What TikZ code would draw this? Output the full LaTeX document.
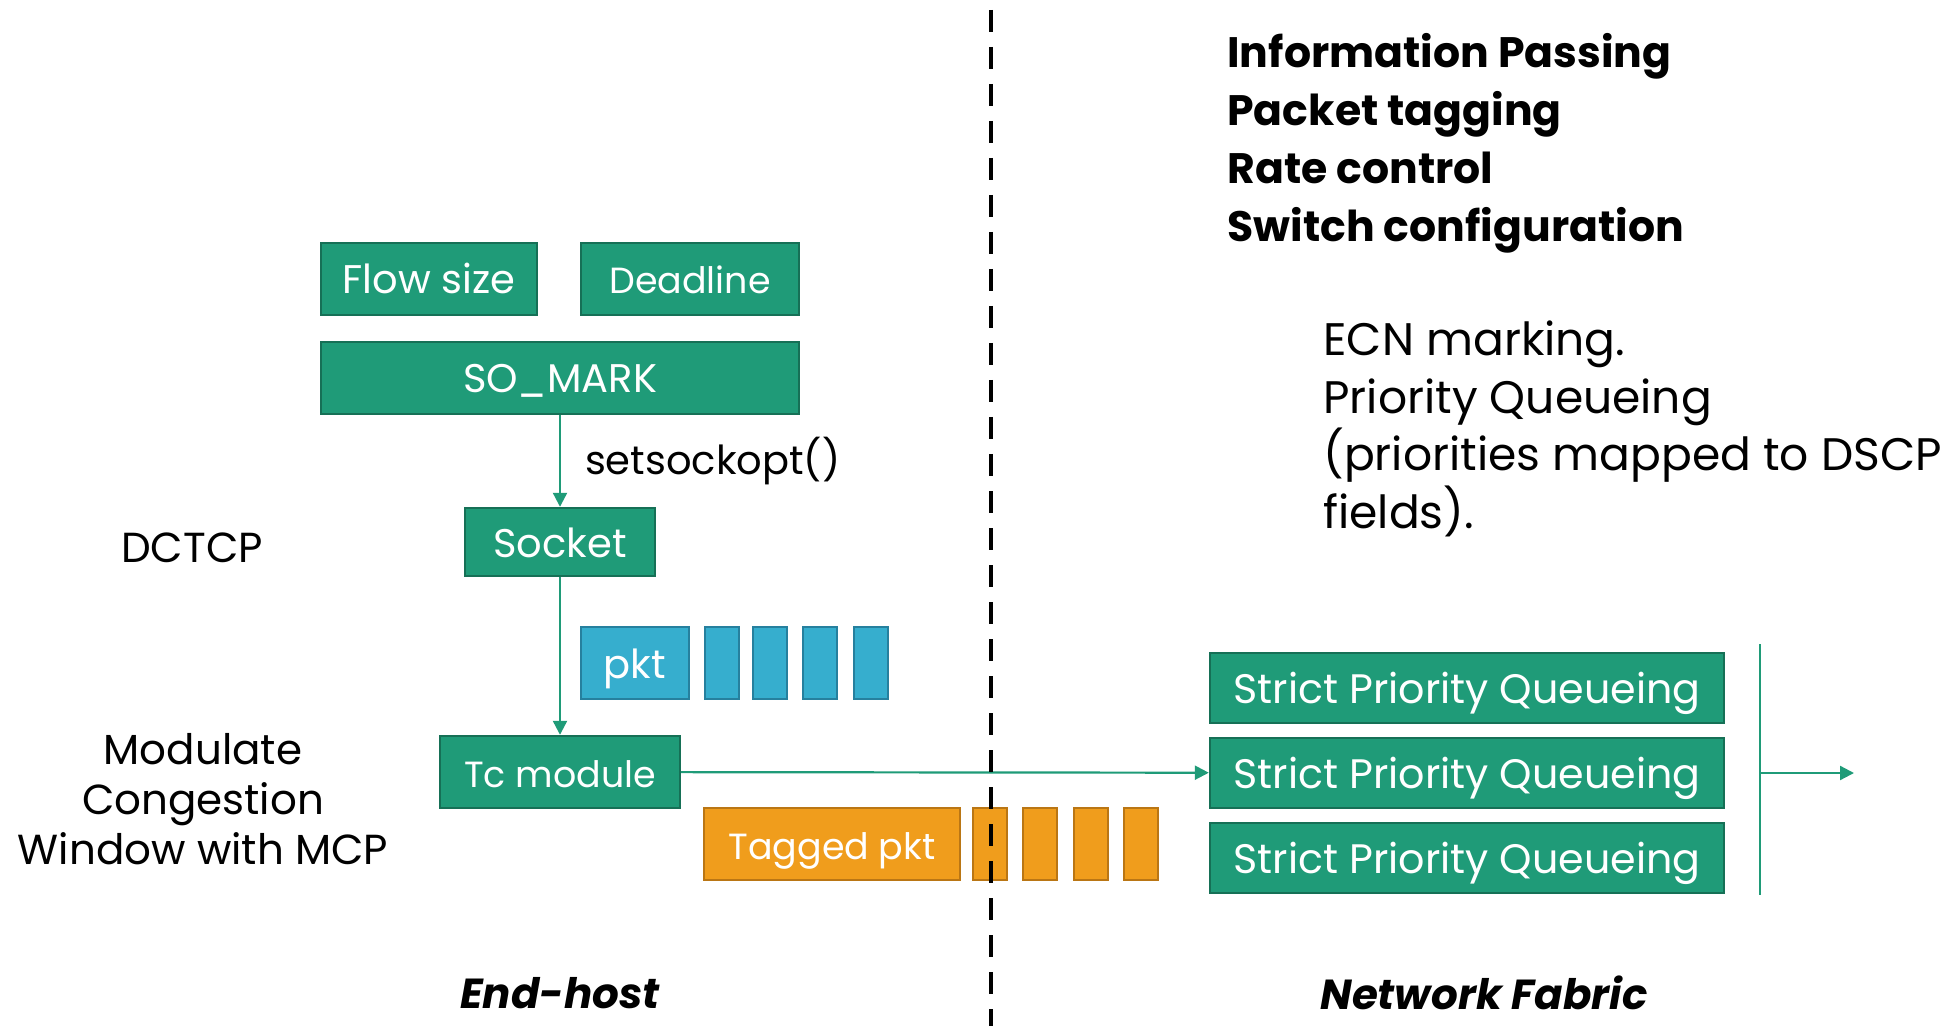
\documentclass[tikz,border=0pt]{standalone}
\usepackage{fontspec}
\setmainfont{Poppins}
\usetikzlibrary{arrows.meta}
\definecolor{boxgreen}{RGB}{31,155,120}
\definecolor{greenedge}{RGB}{22,112,86}
\definecolor{boxblue}{RGB}{54,174,206}
\definecolor{blueedge}{RGB}{38,128,158}
\definecolor{boxorange}{RGB}{240,157,28}
\definecolor{orangeedge}{RGB}{186,118,20}
\begin{document}
\begin{tikzpicture}[x=0.5pt,y=-0.5pt]
  \tikzset{
    basebox/.style={line width=1.2pt,inner sep=0pt,minimum height=36pt,text height=19pt,text depth=4pt,text=white,font=\fontsize{20}{24}\selectfont},
    gbox/.style={basebox,draw=greenedge,fill=boxgreen},
    bbox/.style={basebox,draw=blueedge,fill=boxblue},
    obox/.style={basebox,draw=orangeedge,fill=boxorange},
    smaller/.style={font=\fontsize{18.2}{22}\selectfont},
    txt/.style={inner sep=0pt,font=\fontsize{21}{25}\selectfont},
    glink/.style={draw=boxgreen,line width=1.1pt},
    garrow/.style={glink,-{Triangle[length=7pt,width=7pt]}},
  }
  \useasboundingbox (0,0) rectangle (1954,1026);
  \node[gbox,minimum width=108pt] (flow) at (429,279) {Flow size};
  \node[gbox,smaller,minimum width=109pt] (deadline) at (690,279) {Deadline};
  \node[gbox,minimum width=239pt] (somark) at (560,378) {SO\_MARK};
  \node[gbox,minimum width=95pt,minimum height=34pt] (socket) at (560,542) {Socket};
  \node[bbox,minimum width=54pt] (pkt) at (635,663) {pkt};
  \foreach \x/\n in {722/1,770/2,820/3,871/4}
    \node[bbox,minimum width=17pt] (pkt\n) at (\x,663) {};
  \node[gbox,smaller,minimum width=120pt] (tc) at (560,772) {Tc module};
  \node[obox,smaller,minimum width=128pt] (tagged) at (832,844) {Tagged pkt};
  \foreach \x/\n in {990/1,1040/2,1091/3,1141/4}
    \node[obox,minimum width=17pt] (tag\n) at (\x,844) {};
  \foreach \y/\n in {688/1,773/2,858/3}
    \node[gbox,minimum width=257pt,minimum height=35pt,font=\fontsize{20.6}{24}\selectfont] (spq\n) at (1467,\y) {Strict Priority Queueing};
  \coordinate (bartop) at (1760,644);
  \coordinate (barbot) at (1760,895);
  \coordinate (barmid) at (1760,773);
  \coordinate (out) at (1854,773);
  \coordinate (divtop) at (991,10);
  \coordinate (divbot) at (991,1026);
  \draw[garrow] (somark) -- (socket) node[midway,anchor=west,xshift=12pt,txt,font=\fontsize{20}{24}\selectfont] {setsockopt()};
  \draw[garrow] (socket) -- (tc);
  \draw[garrow] (tc) -- (spq2);
  \draw[glink] (bartop) -- (barbot);
  \draw[garrow] (barmid) -- (out);
  \draw[line width=2pt,dash pattern=on 11pt off 7.5pt] (divtop) -- (divbot);
  \node[txt] (dctcp) at (192,548) {DCTCP};
  \node[txt,align=center] (mcp) at (203,799) {Modulate\\Congestion\\Window with MCP};
  \node[txt,font=\fontsize{21}{25}\selectfont\bfseries\itshape] (endhost) at (560,993) {End-host};
  \node[txt,font=\fontsize{21}{25}\selectfont\bfseries\itshape] (fabric) at (1484,993) {Network Fabric};
  \node[txt,anchor=west,align=left,font=\fontsize{21.3}{29}\selectfont\bfseries] (tasks) at (1227,143) {Information Passing\\Packet tagging\\Rate control\\Switch configuration};
  \node[txt,anchor=west,align=left,font=\fontsize{22.8}{28.8}\selectfont] (switchcfg) at (1323,429) {ECN marking.\\Priority Queueing\\(priorities mapped to DSCP\\fields).};
\end{tikzpicture}
\end{document}
